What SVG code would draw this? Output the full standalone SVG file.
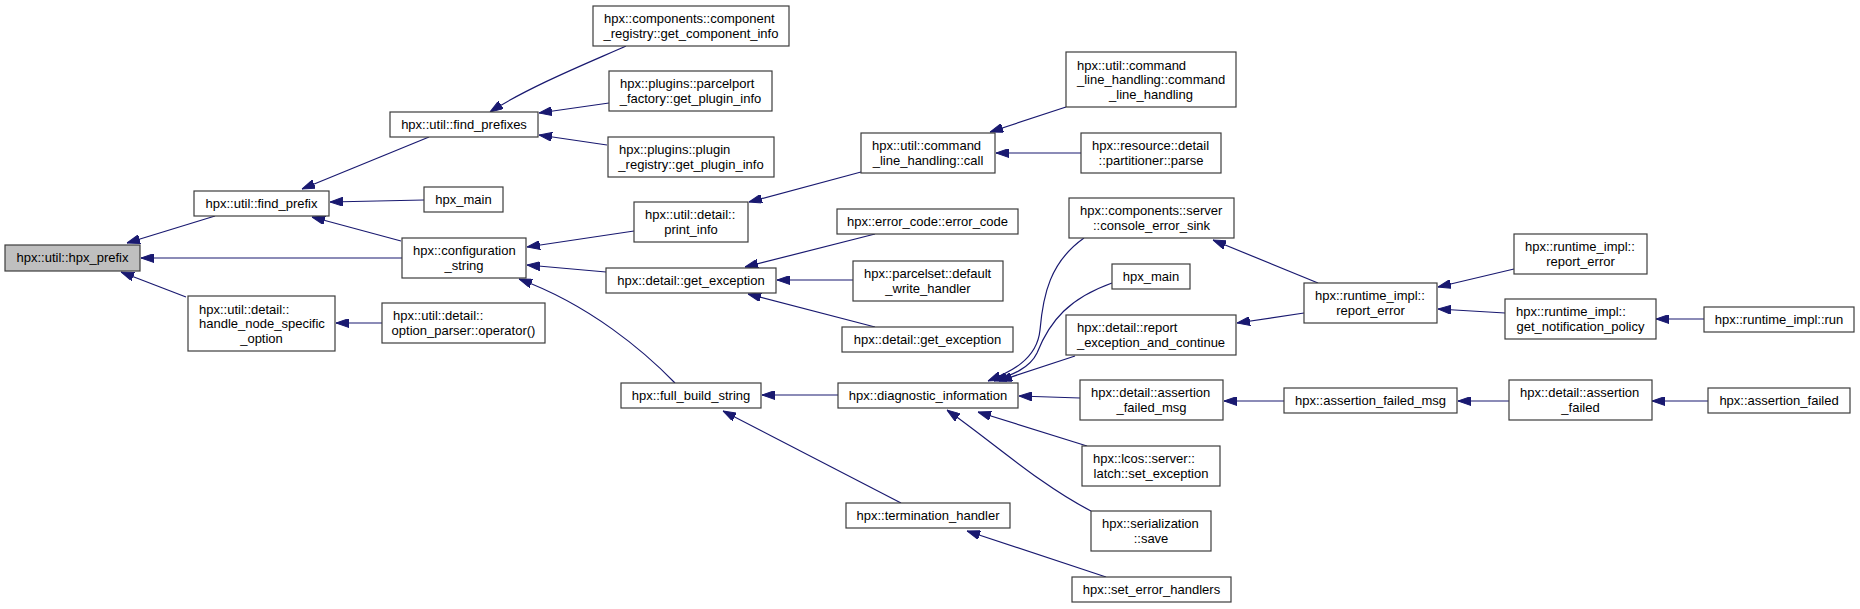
<svg xmlns="http://www.w3.org/2000/svg" width="1860" height="609" viewBox="0 0 1860 609">
<style>
.n rect{fill:#fff;stroke:#3c3c3c;stroke-width:1.2}
.root rect{fill:#bfbfbf}
text{font-family:"Liberation Sans",Arial,sans-serif;font-size:13px;fill:#000}
.c{text-anchor:middle}
.e path{fill:none;stroke:#191970;stroke-width:1.2;marker-end:url(#ah)}
</style>
<defs>
<marker id="ah" viewBox="0 0 13 9" refX="13" refY="4.5" markerWidth="13" markerHeight="9" markerUnits="userSpaceOnUse" orient="auto">
<path d="M0,0 L13,4.5 L0,9 z" fill="#191970" stroke="#191970" stroke-width="1"/>
</marker>
</defs>
<g id="edges" class="e">
<path d="M215,216 L127,243"/>
<path d="M402,258 L141,258"/>
<path d="M186,297 L121,272"/>
<path d="M429,137 L302,189"/>
<path d="M424,200 L330,202"/>
<path d="M401,241 L312,217"/>
<path d="M626,46 C595,60 530,86 490,112"/>
<path d="M609,103 L539,113"/>
<path d="M607,145 L539,135"/>
<path d="M382,323 L336,323"/>
<path d="M634,231 L527,247"/>
<path d="M606,272 L527,265"/>
<path d="M675,383 C645,352 590,305 519,279"/>
<path d="M861,172 L749,202"/>
<path d="M1066,107 L990,132"/>
<path d="M1081,153 L996,153"/>
<path d="M875,234 L745,267"/>
<path d="M853,280 L777,280"/>
<path d="M875,327 L748,294"/>
<path d="M838,395 L762,395"/>
<path d="M901,503 L723,411"/>
<path d="M1084,238 C1050,262 1043,295 1040,330 C1037,360 1010,372 988,381"/>
<path d="M1112,283 C1070,298 1050,320 1037,353 C1030,368 1012,375 994,381"/>
<path d="M1075,356 L999,381"/>
<path d="M1080,398 L1019,396"/>
<path d="M1087,446 L978,412"/>
<path d="M1091,511 C1040,485 990,440 947,410"/>
<path d="M1106,577 L967,531"/>
<path d="M1318,283 L1213,240"/>
<path d="M1304,313 L1237,323"/>
<path d="M1514,269 L1438,287"/>
<path d="M1505,313 L1438,309"/>
<path d="M1704,319 L1656,319"/>
<path d="M1284,401 L1224,401"/>
<path d="M1509,401 L1458,401"/>
<path d="M1708,401 L1652,401"/>
</g>
<g id="n0" class="n root"><rect x="5" y="245" width="135" height="26"/><text class="c" x="72.5" y="262">hpx::util::hpx_prefix</text></g>
<g id="n1" class="n"><rect x="194" y="191" width="135" height="25"/><text class="c" x="261.5" y="208">hpx::util::find_prefix</text></g>
<g id="n2" class="n"><rect x="390" y="112" width="148" height="25"/><text class="c" x="464" y="129">hpx::util::find_prefixes</text></g>
<g id="n3" class="n"><rect x="424" y="187" width="79" height="25"/><text class="c" x="463.5" y="204">hpx_main</text></g>
<g id="n4" class="n"><rect x="402" y="238" width="124" height="40"/><text x="413" y="255">hpx::configuration</text><text class="c" x="464" y="269.5">_string</text></g>
<g id="n5" class="n"><rect x="188" y="296" width="147" height="55"/><text x="199" y="313.5">hpx::util::detail::</text><text x="199" y="328">handle_node_specific</text><text class="c" x="261.5" y="342.5">_option</text></g>
<g id="n6" class="n"><rect x="382" y="303" width="163" height="40"/><text x="393" y="320">hpx::util::detail::</text><text class="c" x="463.5" y="334.5">option_parser::operator()</text></g>
<g id="n7" class="n"><rect x="593" y="6" width="196" height="40"/><text x="604" y="23">hpx::components::component</text><text class="c" x="691" y="37.5">_registry::get_component_info</text></g>
<g id="n8" class="n"><rect x="609" y="71" width="163" height="40"/><text x="620" y="88">hpx::plugins::parcelport</text><text class="c" x="690.5" y="102.5">_factory::get_plugin_info</text></g>
<g id="n9" class="n"><rect x="608" y="137" width="166" height="40"/><text x="619" y="154">hpx::plugins::plugin</text><text class="c" x="691" y="168.5">_registry::get_plugin_info</text></g>
<g id="n10" class="n"><rect x="861" y="133" width="134" height="40"/><text x="872" y="150">hpx::util::command</text><text class="c" x="928" y="164.5">_line_handling::call</text></g>
<g id="n11" class="n"><rect x="634" y="202" width="114" height="40"/><text x="645" y="219">hpx::util::detail::</text><text class="c" x="691" y="233.5">print_info</text></g>
<g id="n12" class="n"><rect x="837" y="209" width="181" height="25"/><text class="c" x="927.5" y="226">hpx::error_code::error_code</text></g>
<g id="n13" class="n"><rect x="606" y="268" width="170" height="25"/><text class="c" x="691" y="285">hpx::detail::get_exception</text></g>
<g id="n14" class="n"><rect x="853" y="261" width="150" height="40"/><text x="864" y="278">hpx::parcelset::default</text><text class="c" x="928" y="292.5">_write_handler</text></g>
<g id="n15" class="n"><rect x="1066" y="52" width="170" height="55"/><text x="1077" y="69.5">hpx::util::command</text><text x="1077" y="84">_line_handling::command</text><text class="c" x="1151" y="98.5">_line_handling</text></g>
<g id="n16" class="n"><rect x="1081" y="133" width="140" height="40"/><text x="1092" y="150">hpx::resource::detail</text><text class="c" x="1151" y="164.5">::partitioner::parse</text></g>
<g id="n17" class="n"><rect x="1069" y="198" width="165" height="40"/><text x="1080" y="215">hpx::components::server</text><text class="c" x="1151.5" y="229.5">::console_error_sink</text></g>
<g id="n18" class="n"><rect x="1112" y="264" width="78" height="25"/><text class="c" x="1151" y="281">hpx_main</text></g>
<g id="n19" class="n"><rect x="842" y="327" width="171" height="25"/><text class="c" x="927.5" y="344">hpx::detail::get_exception</text></g>
<g id="n20" class="n"><rect x="621" y="383" width="140" height="25"/><text class="c" x="691" y="400">hpx::full_build_string</text></g>
<g id="n21" class="n"><rect x="838" y="383" width="180" height="25"/><text class="c" x="928" y="400">hpx::diagnostic_information</text></g>
<g id="n22" class="n"><rect x="1066" y="315" width="170" height="40"/><text x="1077" y="332">hpx::detail::report</text><text class="c" x="1151" y="346.5">_exception_and_continue</text></g>
<g id="n23" class="n"><rect x="1080" y="380" width="143" height="40"/><text x="1091" y="397">hpx::detail::assertion</text><text class="c" x="1151.5" y="411.5">_failed_msg</text></g>
<g id="n24" class="n"><rect x="1082" y="446" width="138" height="40"/><text x="1093" y="463">hpx::lcos::server::</text><text class="c" x="1151" y="477.5">latch::set_exception</text></g>
<g id="n25" class="n"><rect x="1091" y="511" width="120" height="40"/><text x="1102" y="528">hpx::serialization</text><text class="c" x="1151" y="542.5">::save</text></g>
<g id="n26" class="n"><rect x="846" y="503" width="164" height="25"/><text class="c" x="928" y="520">hpx::termination_handler</text></g>
<g id="n27" class="n"><rect x="1072" y="577" width="159" height="25"/><text class="c" x="1151.5" y="594">hpx::set_error_handlers</text></g>
<g id="n28" class="n"><rect x="1304" y="283" width="133" height="40"/><text x="1315" y="300">hpx::runtime_impl::</text><text class="c" x="1370.5" y="314.5">report_error</text></g>
<g id="n29" class="n"><rect x="1514" y="234" width="133" height="40"/><text x="1525" y="251">hpx::runtime_impl::</text><text class="c" x="1580.5" y="265.5">report_error</text></g>
<g id="n30" class="n"><rect x="1505" y="299" width="151" height="40"/><text x="1516" y="316">hpx::runtime_impl::</text><text class="c" x="1580.5" y="330.5">get_notification_policy</text></g>
<g id="n31" class="n"><rect x="1704" y="307" width="150" height="25"/><text class="c" x="1779" y="324">hpx::runtime_impl::run</text></g>
<g id="n32" class="n"><rect x="1284" y="388" width="173" height="25"/><text class="c" x="1370.5" y="405">hpx::assertion_failed_msg</text></g>
<g id="n33" class="n"><rect x="1509" y="380" width="143" height="40"/><text x="1520" y="397">hpx::detail::assertion</text><text class="c" x="1580.5" y="411.5">_failed</text></g>
<g id="n34" class="n"><rect x="1708" y="388" width="142" height="25"/><text class="c" x="1779" y="405">hpx::assertion_failed</text></g>
</svg>
